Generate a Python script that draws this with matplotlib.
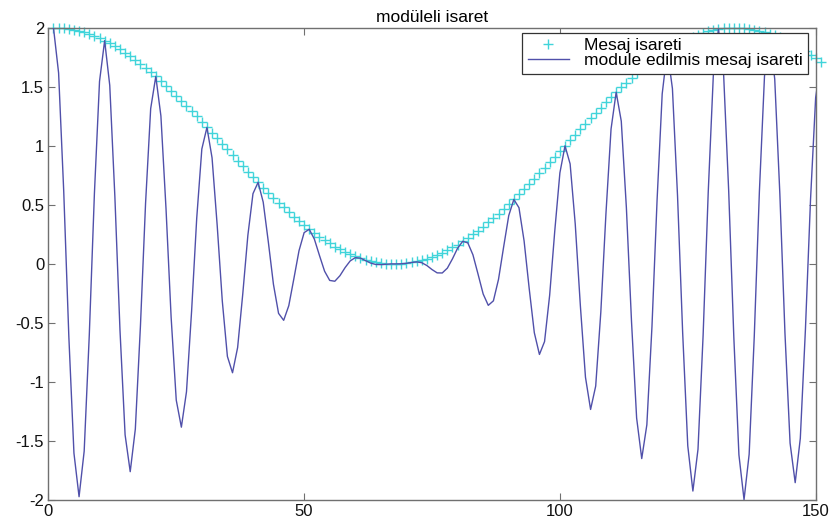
import numpy as np
import matplotlib.pyplot as plt

# message signal samples (1 + cos), n = 1..151
mesaj = [
    2.000, 1.999, 1.996, 1.990, 1.982, 1.972, 1.960, 1.946, 1.930, 1.911,
    1.891, 1.869, 1.844, 1.818, 1.790, 1.760, 1.729, 1.696, 1.661, 1.625,
    1.588, 1.549, 1.509, 1.468, 1.426, 1.383, 1.339, 1.294, 1.249, 1.203,
    1.156, 1.110, 1.063, 1.016, 0.969, 0.922, 0.875, 0.828, 0.782, 0.736,
    0.691, 0.647, 0.603, 0.560, 0.518, 0.478, 0.438, 0.400, 0.363, 0.327,
    0.293, 0.260, 0.229, 0.200, 0.173, 0.147, 0.124, 0.102, 0.082, 0.065,
    0.049, 0.035, 0.024, 0.015, 0.008, 0.003, 0.000, 0.000, 0.002, 0.006,
    0.012, 0.021, 0.031, 0.044, 0.059, 0.076, 0.095, 0.116, 0.139, 0.164,
    0.191, 0.220, 0.250, 0.282, 0.315, 0.351, 0.387, 0.425, 0.464, 0.505,
    0.546, 0.588, 0.632, 0.676, 0.721, 0.767, 0.813, 0.859, 0.906, 0.953,
    1.000, 1.047, 1.094, 1.141, 1.187, 1.233, 1.279, 1.324, 1.368, 1.412,
    1.454, 1.495, 1.536, 1.575, 1.613, 1.649, 1.685, 1.718, 1.750, 1.780,
    1.809, 1.836, 1.861, 1.884, 1.905, 1.924, 1.941, 1.956, 1.969, 1.979,
    1.988, 1.994, 1.998, 2.000, 2.000, 1.997, 1.992, 1.985, 1.976, 1.965,
    1.951, 1.935, 1.918, 1.898, 1.876, 1.853, 1.827, 1.800, 1.771, 1.740,
    1.707,
]

# modulated signal samples
modulated = [
    2.000, 1.617, 0.617, -0.615, -1.603, -1.972, -1.586, -0.601, 0.596, 1.546,
    1.891, 1.512, 0.570, -0.562, -1.448, -1.760, -1.399, -0.524, 0.513, 1.315,
    1.588, 1.253, 0.466, -0.454, -1.154, -1.383, -1.083, -0.400, 0.386, 0.973,
    1.156, 0.898, 0.328, -0.314, -0.784, -0.922, -0.708, -0.256, 0.242, 0.595,
    0.691, 0.523, 0.186, -0.173, -0.419, -0.478, -0.354, -0.124, 0.112, 0.265,
    0.293, 0.210, 0.071, -0.062, -0.140, -0.147, -0.100, -0.032, 0.025, 0.053,
    0.049, 0.028, 0.007, -0.005, -0.006, -0.003, 0.000, 0.000, 0.001, 0.005,
    0.012, 0.017, 0.010, -0.014, -0.048, -0.076, -0.077, -0.036, 0.043, 0.133,
    0.191, 0.178, 0.077, -0.087, -0.255, -0.351, -0.313, -0.131, 0.143, 0.409,
    0.546, 0.476, 0.195, -0.209, -0.583, -0.767, -0.658, -0.265, 0.280, 0.771,
    1.000, 0.847, 0.338, -0.353, -0.960, -1.233, -1.035, -0.409, 0.423, 1.142,
    1.454, 1.209, 0.475, -0.487, -1.305, -1.649, -1.363, -0.531, 0.541, 1.440,
    1.809, 1.485, 0.575, -0.582, -1.541, -1.924, -1.570, -0.604, 0.608, 1.601,
    1.988, 1.613, 0.617, -0.618, -1.618, -1.997, -1.612, -0.613, 0.611, 1.590,
    1.951, 1.565, 0.593, -0.587, -1.518, -1.853, -1.478, -0.556, 0.547, 1.408,
    1.707,
]

xticks = [0, 50, 100, 150]
yticks = [-2, -1.5, -1, -0.5, 0, 0.5, 1, 1.5, 2]

plt.rcParams['font.family'] = ['Liberation Sans', 'DejaVu Sans']
plt.rcParams['axes.unicode_minus'] = False

n = np.arange(1, len(mesaj) + 1)

fig = plt.figure(figsize=(8.34, 5.25), dpi=100)
ax = fig.add_axes([0.058, 0.0476, 0.920, 0.8995])

ax.plot(n, mesaj, '+', color='#40d4da', markersize=7.5, markeredgewidth=1.0,
        clip_on=False, label='Mesaj isareti', zorder=2)
ax.plot(n, modulated, '-', color='#5050aa', linewidth=1.0,
        label='module edilmis mesaj isareti', zorder=3)

ax.set_xlim(0, 150)
ax.set_ylim(-2, 2)
ax.set_xticks(xticks)
ax.set_yticks(yticks)
ax.set_xticklabels([str(v) for v in xticks])
ax.set_yticklabels(['-2', '-1.5', '-1', '-0.5', '0', '0.5', '1', '1.5', '2'])
ax.tick_params(direction='in', length=5, width=0.8, colors='#707070',
               labelcolor='#111111', labelsize=12, top=True, right=True, pad=3)
for s in ax.spines.values():
    s.set_color('#707070')
    s.set_linewidth(1.0)

ax.set_title('modüleli isaret', fontsize=12.5, pad=4)

leg = ax.legend(loc='upper right', bbox_to_anchor=(0.990, 0.989),
                borderaxespad=0, fancybox=False, framealpha=1,
                edgecolor='#333333', fontsize=12.5, handlelength=2.4,
                handletextpad=0.85, borderpad=0.3, labelspacing=0.0)
leg.get_frame().set_linewidth(0.9)
leg.set_zorder(5)

fig.savefig('out.png', dpi=100)
